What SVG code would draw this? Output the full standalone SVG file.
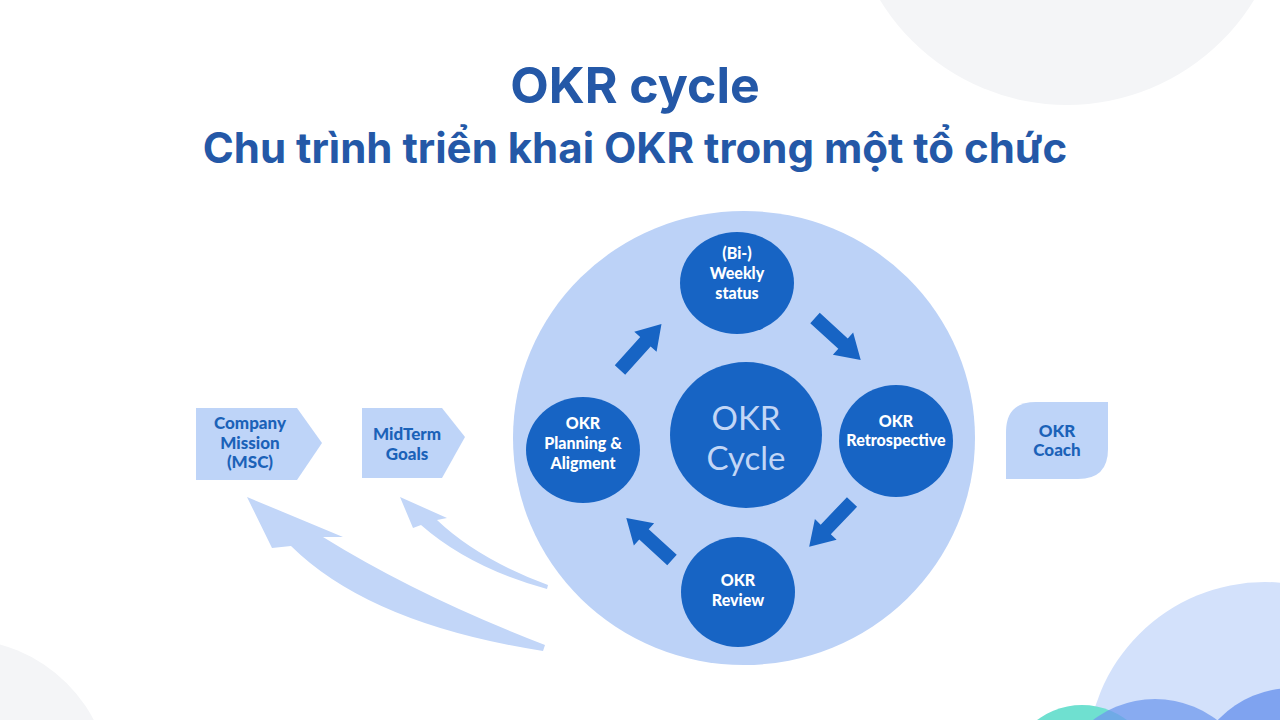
<svg xmlns="http://www.w3.org/2000/svg" width="1280" height="720" viewBox="0 0 1280 720">
<style>
.title{font-family:Inter,"Noto Sans","Liberation Sans",sans-serif;font-weight:700;fill:#2458a7;text-anchor:middle}
.lbl{font-family:Lato,"Open Sans","Liberation Sans",sans-serif;font-weight:900;font-size:16px;fill:#ffffff;text-anchor:middle}
.blbl{font-family:Lato,"Open Sans","Liberation Sans",sans-serif;font-weight:900;font-size:17px;fill:#1b62b8;text-anchor:middle}
.clbl{font-family:Lato,"Open Sans","Liberation Sans",sans-serif;font-weight:400;font-size:33px;fill:#c2d6f6;text-anchor:middle}
.dark{fill:#1764c4}
.light{fill:#bcd2f7}
.box{fill:#bed4f8}
.cur{fill:#c2d6f8}
</style>
<defs>
<path id="arr" d="M0,-7 L38,-7 L38,-15 L62,0 L38,15 L38,7 L0,7 Z"/>
</defs>
<rect width="1280" height="720" fill="#ffffff"/>
<g id="background">
<circle cx="1067" cy="-114" r="219" fill="#f4f5f7"/>
<circle cx="-40" cy="790" r="151" fill="#f4f5f7"/>
<circle cx="1265" cy="760" r="178" fill="#d3e1fb"/>
<circle cx="1082" cy="780" r="75" fill="#6fe0d0"/>
<circle cx="1155" cy="801" r="102" fill="#6f98ee" fill-opacity="0.75"/>
<circle cx="1292" cy="790" r="102" fill="#7fa3f0"/>
</g>
<g id="title">
<text class="title" x="635" y="103" font-size="50">OKR cycle</text>
<text class="title" x="635" y="163" font-size="42">Chu trình triển khai OKR trong một tổ chức</text>
</g>
<g id="cycle-area">
<ellipse class="light" cx="744" cy="438" rx="231" ry="227"/>
</g>
<g id="connectors">
<use href="#arr" class="dark" transform="translate(620,370) rotate(-48)"/>
<use href="#arr" class="dark" transform="translate(815,318) rotate(42.5)"/>
<use href="#arr" class="dark" transform="translate(852,502) rotate(133.7)"/>
<use href="#arr" class="dark" transform="translate(672,560) rotate(-137.5)"/>
<path class="cur" d="M247,497 L272,548 L291,546 Q370,624 543,651 L545,645 Q418,596 323,537 L343,537 Z"/>
<path class="cur" d="M400,497 L413,528 L421,525 Q470,568 547,589 L548,585 Q478,559 437,520 L447,518 Z"/>
</g>
<g id="node-center">
<ellipse class="dark" cx="746" cy="435" rx="76" ry="73"/>
<text class="clbl" x="746" y="430">OKR</text>
<text class="clbl" x="746" y="470">Cycle</text>
</g>
<g id="node-weekly">
<ellipse class="dark" cx="737" cy="283" rx="57" ry="51"/>
<text class="lbl" x="737" y="259">(Bi-)</text>
<text class="lbl" x="737" y="279">Weekly</text>
<text class="lbl" x="737" y="299">status</text>
</g>
<g id="node-retro">
<ellipse class="dark" cx="896" cy="441" rx="57" ry="56"/>
<text class="lbl" x="896" y="427">OKR</text>
<text class="lbl" x="896" y="446">Retrospective</text>
</g>
<g id="node-review">
<ellipse class="dark" cx="738" cy="592" rx="57" ry="55"/>
<text class="lbl" x="738" y="586">OKR</text>
<text class="lbl" x="738" y="606">Review</text>
</g>
<g id="node-planning">
<ellipse class="dark" cx="583" cy="450" rx="57" ry="53"/>
<text class="lbl" x="583" y="429">OKR</text>
<text class="lbl" x="583" y="449">Planning &amp;</text>
<text class="lbl" x="583" y="469">Aligment</text>
</g>
<g id="node-mission">
<path class="box" d="M196,408 L297,408 L322,443 L297,480 L196,480 Z"/>
<text class="blbl" x="250" y="429">Company</text>
<text class="blbl" x="250" y="449">Mission</text>
<text class="blbl" x="250" y="468">(MSC)</text>
</g>
<g id="node-midterm">
<path class="box" d="M362,408 L442,408 L465,437 L442,478 L362,478 Z"/>
<text class="blbl" x="407" y="440">MidTerm</text>
<text class="blbl" x="407" y="460">Goals</text>
</g>
<g id="node-coach">
<path class="box" d="M1036,402 L1108,402 L1108,449 Q1108,479 1078,479 L1006,479 L1006,432 Q1006,402 1036,402 Z"/>
<text class="blbl" x="1057" y="437">OKR</text>
<text class="blbl" x="1057" y="456">Coach</text>
</g>
</svg>
